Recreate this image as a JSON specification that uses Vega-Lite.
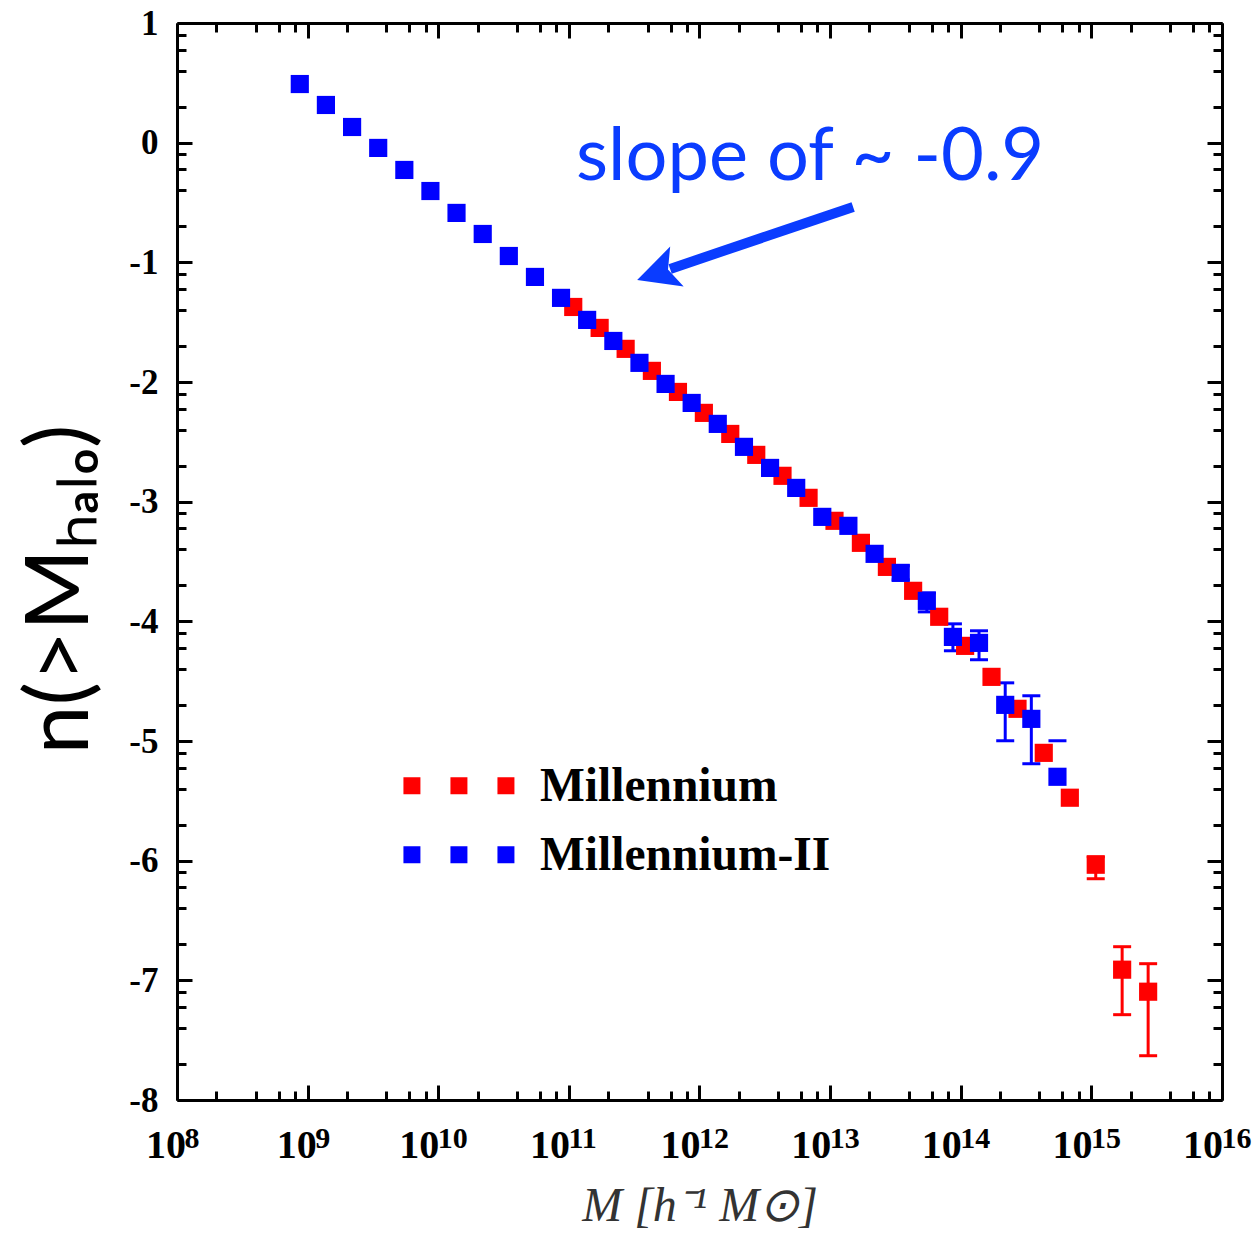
{
  "$schema": "https://vega.github.io/schema/vega-lite/v6.json",
  "width": 1045,
  "height": 1077,
  "autosize": {"type": "none"},
  "padding": {"left": 177, "top": 23, "right": 35, "bottom": 134},
  "background": "white",
  "config": {"view": {"stroke": null}, "axis": {"grid": false}},
  "datasets": {
    "mill": [
      {"M": 1.08e11, "n": -1.373},
      {"M": 1.72e11, "n": -1.548},
      {"M": 2.72e11, "n": -1.723},
      {"M": 4.32e11, "n": -1.907},
      {"M": 6.84e11, "n": -2.083},
      {"M": 1.08e12, "n": -2.258},
      {"M": 1.72e12, "n": -2.434},
      {"M": 2.72e12, "n": -2.609},
      {"M": 4.32e12, "n": -2.784},
      {"M": 6.84e12, "n": -2.968},
      {"M": 1.08e13, "n": -3.160},
      {"M": 1.72e13, "n": -3.344},
      {"M": 2.72e13, "n": -3.545},
      {"M": 4.32e13, "n": -3.745},
      {"M": 6.84e13, "n": -3.962},
      {"M": 1.08e14, "n": -4.205},
      {"M": 1.72e14, "n": -4.464},
      {"M": 2.72e14, "n": -4.731},
      {"M": 4.32e14, "n": -5.099},
      {"M": 6.84e14, "n": -5.474},
      {"M": 1.08e15, "n": -6.034, "lo": -6.151, "hi": -5.967},
      {"M": 1.72e15, "n": -6.911, "lo": -7.287, "hi": -6.719},
      {"M": 2.72e15, "n": -7.095, "lo": -7.630, "hi": -6.861}
    ],
    "mill2": [
      {"M": 8.71e8, "n": 0.490},
      {"M": 1.38e9, "n": 0.315},
      {"M": 2.19e9, "n": 0.131},
      {"M": 3.47e9, "n": -0.044},
      {"M": 5.50e9, "n": -0.228},
      {"M": 8.71e9, "n": -0.404},
      {"M": 1.38e10, "n": -0.587},
      {"M": 2.19e10, "n": -0.763},
      {"M": 3.47e10, "n": -0.947},
      {"M": 5.50e10, "n": -1.122},
      {"M": 8.71e10, "n": -1.297},
      {"M": 1.38e11, "n": -1.481},
      {"M": 2.19e11, "n": -1.657},
      {"M": 3.47e11, "n": -1.840},
      {"M": 5.50e11, "n": -2.016},
      {"M": 8.71e11, "n": -2.175},
      {"M": 1.38e12, "n": -2.350},
      {"M": 2.19e12, "n": -2.542},
      {"M": 3.47e12, "n": -2.718},
      {"M": 5.50e12, "n": -2.885},
      {"M": 8.71e12, "n": -3.127},
      {"M": 1.38e13, "n": -3.202},
      {"M": 2.19e13, "n": -3.436},
      {"M": 3.47e13, "n": -3.595, "lo": -3.653, "hi": -3.536},
      {"M": 5.50e13, "n": -3.829, "lo": -3.921, "hi": -3.762},
      {"M": 8.71e13, "n": -4.130, "lo": -4.246, "hi": -4.021},
      {"M": 1.38e14, "n": -4.180, "lo": -4.321, "hi": -4.079},
      {"M": 2.19e14, "n": -4.698, "lo": -4.998, "hi": -4.514},
      {"M": 3.47e14, "n": -4.815, "lo": -5.190, "hi": -4.622},
      {"M": 5.50e14, "n": -5.299, "hi": -4.998}
    ]
  },
  "resolve": {"axis": {"x": "independent", "y": "independent"}},
  "layer": [
    {
      "data": {"name": "mill"},
      "transform": [{"filter": "isValid(datum.lo) && isValid(datum.hi)"}],
      "mark": {"type": "rule", "color": "#ff0000", "strokeWidth": 3},
      "encoding": {
        "x": {"field": "M", "type": "quantitative", "scale": {"type": "log", "domain": [1e8, 1e16], "nice": false},
          "axis": {"orient": "top", "values": [1e8, 1e9, 1e10, 1e11, 1e12, 1e13, 1e14, 1e15, 1e16], "labels": false, "tickSize": -15, "tickWidth": 3, "tickColor": "black", "domain": true, "domainWidth": 3, "domainColor": "black", "title": null}},
        "y": {"field": "lo", "type": "quantitative", "scale": {"domain": [-8, 1], "nice": false, "zero": false},
          "axis": {"orient": "right", "values": [-8, -7, -6, -5, -4, -3, -2, -1, 0, 1], "labels": false, "tickSize": -15, "tickWidth": 3, "tickColor": "black", "domain": true, "domainWidth": 3, "domainColor": "black", "title": null}},
        "y2": {"field": "hi"}
      }
    },
    {
      "data": {"name": "mill"},
      "transform": [{"filter": "isValid(datum.lo)"}],
      "mark": {"type": "tick", "orient": "horizontal", "color": "#ff0000", "size": 18, "thickness": 3, "opacity": 1},
      "encoding": {
        "x": {"field": "M", "type": "quantitative", "scale": {"type": "log", "domain": [1e8, 1e16], "nice": false},
          "axis": {"orient": "top", "values": [2e8, 4e8, 6e8, 8e8, 2e9, 4e9, 6e9, 8e9, 2e10, 4e10, 6e10, 8e10, 2e11, 4e11, 6e11, 8e11, 2e12, 4e12, 6e12, 8e12, 2e13, 4e13, 6e13, 8e13, 2e14, 4e14, 6e14, 8e14, 2e15, 4e15, 6e15, 8e15], "labels": false, "tickSize": -9, "tickWidth": 3, "tickColor": "black", "domain": false, "title": null}},
        "y": {"field": "lo", "type": "quantitative", "scale": {"domain": [-8, 1], "nice": false, "zero": false},
          "axis": {"orient": "right", "values": [-7.699, -7.398, -7.222, -7.097, -6.699, -6.398, -6.222, -6.097, -5.699, -5.398, -5.222, -5.097, -4.699, -4.398, -4.222, -4.097, -3.699, -3.398, -3.222, -3.097, -2.699, -2.398, -2.222, -2.097, -1.699, -1.398, -1.222, -1.097, -0.699, -0.398, -0.222, -0.097, 0.301, 0.602, 0.778, 0.903], "labels": false, "tickSize": -9, "tickWidth": 3, "tickColor": "black", "domain": false, "title": null}}
      }
    },
    {
      "data": {"name": "mill"},
      "transform": [{"filter": "isValid(datum.hi)"}],
      "mark": {"type": "tick", "orient": "horizontal", "color": "#ff0000", "size": 18, "thickness": 3, "opacity": 1},
      "encoding": {
        "x": {"field": "M", "type": "quantitative", "scale": {"type": "log", "domain": [1e8, 1e16], "nice": false},
          "axis": {"orient": "bottom", "values": [2e8, 4e8, 6e8, 8e8, 2e9, 4e9, 6e9, 8e9, 2e10, 4e10, 6e10, 8e10, 2e11, 4e11, 6e11, 8e11, 2e12, 4e12, 6e12, 8e12, 2e13, 4e13, 6e13, 8e13, 2e14, 4e14, 6e14, 8e14, 2e15, 4e15, 6e15, 8e15], "labels": false, "tickSize": -9, "tickWidth": 3, "tickColor": "black", "domain": false, "title": null}},
        "y": {"field": "hi", "type": "quantitative", "scale": {"domain": [-8, 1], "nice": false, "zero": false},
          "axis": {"orient": "left", "values": [-7.699, -7.398, -7.222, -7.097, -6.699, -6.398, -6.222, -6.097, -5.699, -5.398, -5.222, -5.097, -4.699, -4.398, -4.222, -4.097, -3.699, -3.398, -3.222, -3.097, -2.699, -2.398, -2.222, -2.097, -1.699, -1.398, -1.222, -1.097, -0.699, -0.398, -0.222, -0.097, 0.301, 0.602, 0.778, 0.903], "labels": false, "tickSize": -9, "tickWidth": 3, "tickColor": "black", "domain": false, "title": null}}
      }
    },
    {
      "data": {"name": "mill2"},
      "transform": [{"filter": "isValid(datum.lo) && isValid(datum.hi)"}],
      "mark": {"type": "rule", "color": "#0000ff", "strokeWidth": 3},
      "encoding": {
        "x": {"field": "M", "type": "quantitative", "scale": {"type": "log", "domain": [1e8, 1e16], "nice": false},
          "axis": {"orient": "bottom", "values": [1e8, 1e9, 1e10, 1e11, 1e12, 1e13, 1e14, 1e15, 1e16], "labels": false, "tickSize": -15, "tickWidth": 3, "tickColor": "black", "domain": true, "domainWidth": 3, "domainColor": "black", "title": null}},
        "y": {"field": "lo", "type": "quantitative", "scale": {"domain": [-8, 1], "nice": false, "zero": false},
          "axis": {"orient": "left", "values": [-8, -7, -6, -5, -4, -3, -2, -1, 0, 1], "labels": false, "tickSize": -15, "tickWidth": 3, "tickColor": "black", "domain": true, "domainWidth": 3, "domainColor": "black", "title": null}},
        "y2": {"field": "hi"}
      }
    },
    {
      "data": {"name": "mill2"},
      "transform": [{"filter": "isValid(datum.lo)"}],
      "mark": {"type": "tick", "orient": "horizontal", "color": "#0000ff", "size": 18, "thickness": 3, "opacity": 1},
      "encoding": {
        "x": {"field": "M", "type": "quantitative", "scale": {"type": "log", "domain": [1e8, 1e16], "nice": false},
          "axis": {"orient": "bottom", "values": [1e8, 1e9, 1e10, 1e11, 1e12, 1e13, 1e14, 1e15, 1e16], "ticks": false, "tickSize": 0, "domain": false,
            "labelExpr": "'10'", "labelFont": "Liberation Serif", "labelFontWeight": "bold", "labelFontSize": 40, "labelColor": "black",
            "labelBaseline": "alphabetic", "labelAlign": "center", "labelPadding": 57,
            "labelOffset": {"condition": {"test": "datum.value < 5e9", "value": -11.5}, "value": -19.5},
            "labelFlush": false, "labelOverlap": false, "labelBound": false,
            "title": "M [h⁻¹  M⊙]", "titleFont": "Liberation Serif", "titleFontStyle": "italic", "titleFontWeight": "normal", "titleFontSize": 48, "titleColor": "#333333", "titleY": 120, "titleBaseline": "alphabetic"}},
        "y": {"field": "lo", "type": "quantitative", "scale": {"domain": [-8, 1], "nice": false, "zero": false},
          "axis": {"orient": "left", "values": [-8, -7, -6, -5, -4, -3, -2, -1, 0, 1], "ticks": false, "tickSize": 0, "domain": false,
            "labelExpr": "datum.value < 0 ? '-' + (-datum.value) : '' + datum.value",
            "labelFont": "Liberation Serif", "labelFontWeight": "bold", "labelFontSize": 35, "labelColor": "black", "labelPadding": 19,
            "labelFlush": false, "labelOverlap": false, "labelBound": false,
            "title": "n(>Mₕₐₗₒ)", "titleFont": "Lato", "titleFontWeight": "normal", "titleFontSize": 88, "titleColor": "black",
            "titleAngle": 270, "titleX": -90, "titleY": 566, "titleBaseline": "alphabetic", "titleAlign": "center"}}
      }
    },
    {
      "data": {"name": "mill2"},
      "transform": [{"filter": "isValid(datum.hi)"}],
      "mark": {"type": "tick", "orient": "horizontal", "color": "#0000ff", "size": 18, "thickness": 3, "opacity": 1},
      "encoding": {
        "x": {"field": "M", "type": "quantitative", "scale": {"type": "log", "domain": [1e8, 1e16], "nice": false},
          "axis": {"orient": "bottom", "values": [1e8, 1e9, 1e10, 1e11, 1e12, 1e13, 1e14, 1e15, 1e16], "ticks": false, "tickSize": 0, "domain": false,
            "labelExpr": "'' + round(log(datum.value) / LN10)", "labelFont": "Liberation Serif", "labelFontWeight": "bold", "labelFontSize": 30, "labelColor": "black",
            "labelBaseline": "alphabetic", "labelAlign": "left", "labelPadding": 47,
            "labelOffset": {"condition": {"test": "datum.value < 5e9", "value": 7}, "value": -1},
            "labelFlush": false, "labelOverlap": false, "labelBound": false, "title": null}},
        "y": {"field": "hi", "type": "quantitative", "scale": {"domain": [-8, 1], "nice": false, "zero": false}, "axis": null}
      }
    },
    {
      "data": {"name": "mill"},
      "mark": {"type": "point", "shape": "square", "filled": true, "size": 330, "color": "#ff0000", "opacity": 1, "strokeWidth": 0},
      "encoding": {
        "x": {"field": "M", "type": "quantitative", "scale": {"type": "log", "domain": [1e8, 1e16], "nice": false}, "axis": null},
        "y": {"field": "n", "type": "quantitative", "scale": {"domain": [-8, 1], "nice": false, "zero": false}, "axis": null}
      }
    },
    {
      "data": {"name": "mill2"},
      "mark": {"type": "point", "shape": "square", "filled": true, "size": 330, "color": "#0000ff", "opacity": 1, "strokeWidth": 0},
      "encoding": {
        "x": {"field": "M", "type": "quantitative", "scale": {"type": "log", "domain": [1e8, 1e16], "nice": false}, "axis": null},
        "y": {"field": "n", "type": "quantitative", "scale": {"domain": [-8, 1], "nice": false, "zero": false}, "axis": null}
      }
    },
    {
      "data": {"values": [{"label": "slope of ~ -0.9"}]},
      "mark": {"type": "text", "font": "Lato", "fontSize": 74, "color": "#0a3cff", "align": "center", "baseline": "alphabetic"},
      "encoding": {
        "x": {"datum": 7.03e12, "type": "quantitative", "axis": null},
        "y": {"datum": -0.312, "type": "quantitative", "axis": null},
        "text": {"field": "label"}
      }
    },
    {
      "data": {"values": [{"label": "arrow"}]},
      "mark": {"type": "rule", "color": "#0a3cff", "strokeWidth": 10, "strokeCap": "butt"},
      "encoding": {
        "x": {"datum": 1.50e13, "type": "quantitative", "axis": null},
        "x2": {"datum": 5.96e11},
        "y": {"datum": -0.537, "type": "quantitative", "axis": null},
        "y2": {"datum": -1.055}
      }
    },
    {
      "data": {"values": [{"label": "arrowhead"}]},
      "mark": {"type": "point", "shape": "M0,-1L1,1L0,0.55L-1,1Z", "filled": true, "size": 1764, "angle": 251.3, "color": "#0a3cff", "opacity": 1, "strokeWidth": 0},
      "encoding": {
        "x": {"datum": 4.73e11, "type": "quantitative", "axis": null},
        "y": {"datum": -1.091, "type": "quantitative", "axis": null}
      }
    },
    {
      "data": {"values": [{"label": "Millennium"}]},
      "mark": {"type": "point", "shape": "M-1,-0.153H-0.694V0.153H-1Z M-0.153,-0.153H0.153V0.153H-0.153Z M0.694,-0.153H1V0.153H0.694Z", "filled": true, "size": 12321, "color": "#ff0000", "opacity": 1, "strokeWidth": 0},
      "encoding": {
        "x": {"datum": 1.44e10, "type": "quantitative", "axis": null},
        "y": {"datum": -5.374, "type": "quantitative", "axis": null}
      }
    },
    {
      "data": {"values": [{"label": "Millennium-II"}]},
      "mark": {"type": "point", "shape": "M-1,-0.153H-0.694V0.153H-1Z M-0.153,-0.153H0.153V0.153H-0.153Z M0.694,-0.153H1V0.153H0.694Z", "filled": true, "size": 12321, "color": "#0000ff", "opacity": 1, "strokeWidth": 0},
      "encoding": {
        "x": {"datum": 1.44e10, "type": "quantitative", "axis": null},
        "y": {"datum": -5.951, "type": "quantitative", "axis": null}
      }
    },
    {
      "data": {"values": [{"label": "Millennium"}]},
      "mark": {"type": "text", "font": "Liberation Serif", "fontWeight": "bold", "fontSize": 47.5, "color": "black", "align": "left", "baseline": "middle"},
      "encoding": {
        "x": {"datum": 6.01e10, "type": "quantitative", "axis": null},
        "y": {"datum": -5.382, "type": "quantitative", "axis": null},
        "text": {"field": "label"}
      }
    },
    {
      "data": {"values": [{"label": "Millennium-II"}]},
      "mark": {"type": "text", "font": "Liberation Serif", "fontWeight": "bold", "fontSize": 47.5, "color": "black", "align": "left", "baseline": "middle"},
      "encoding": {
        "x": {"datum": 6.01e10, "type": "quantitative", "axis": null},
        "y": {"datum": -5.959, "type": "quantitative", "axis": null},
        "text": {"field": "label"}
      }
    }
  ]
}
